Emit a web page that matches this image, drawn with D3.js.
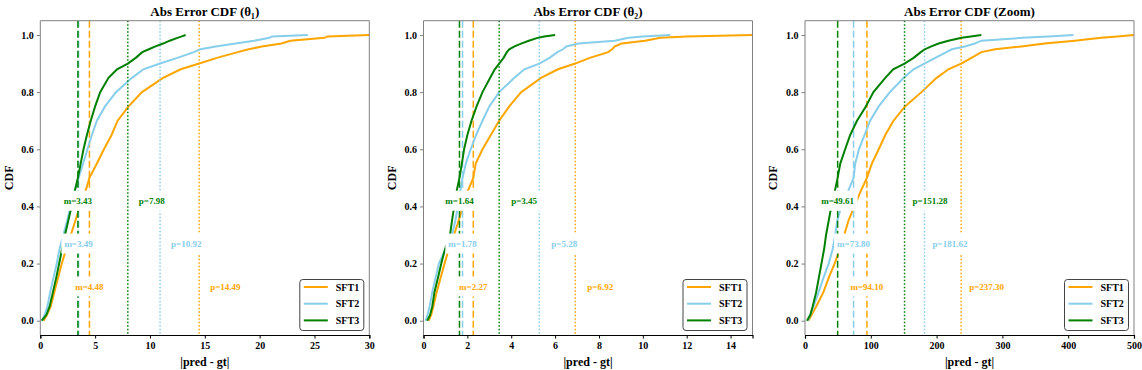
<!DOCTYPE html>
<meta charset="utf-8">
<style>
body { margin: 0; background: #fff; }
svg text { font-family: "Liberation Serif", "Times New Roman", serif; font-weight: bold; }
</style>
<body>
<div id="chart"></div>
<script src="https://d3js.org/d3.v7.min.js"></script>
<script>
var cdfLevels = [0, 0.02, 0.05, 0.1, 0.15, 0.2, 0.25, 0.3, 0.35, 0.4, 0.45, 0.5, 0.55, 0.6, 0.65,
                 0.7, 0.75, 0.8, 0.85, 0.88, 0.9, 0.92, 0.94, 0.95, 0.96, 0.97, 0.98, 0.99, 0.995, 1];

var seriesNames = ["SFT1", "SFT2", "SFT3"];

// theta1
var theta1SFT1 = [0.3, 0.6, 0.95, 1.28, 1.62, 1.96, 2.35, 2.78, 3.2, 3.6, 4.1, 4.48, 5.16, 5.8, 6.5,
                  7.05, 8.05, 9.27, 11.2, 12.8, 14.49, 16.1, 18.0, 19.0, 20.2, 22.0, 22.8, 25.9, 26.2, 30];
var theta1SFT2 = [0.15, 0.4, 0.65, 0.9, 1.2, 1.5, 1.75, 2.1, 2.45, 2.75, 3.1, 3.49, 3.9, 4.3, 4.7,
                  5.16, 5.9, 6.9, 8.36, 9.4, 10.92, 12.5, 14.0, 14.6, 16.0, 17.8, 19.5, 20.9, 21.1, 24.4];
var theta1SFT3 = [0.13, 0.55, 0.85, 1.15, 1.45, 1.72, 1.98, 2.25, 2.55, 2.85, 3.12, 3.43, 3.68, 3.94, 4.25,
                  4.6, 5.0, 5.46, 6.22, 7.0, 7.98, 8.7, 9.3, 9.9, 10.5, 11.2, 11.8, 12.5, 12.9, 13.25];

// theta2
var theta2SFT1 = [0.24, 0.35, 0.45, 0.6, 0.78, 0.96, 1.15, 1.39, 1.6, 1.8, 2.0, 2.27, 2.38, 2.69, 3.07,
                  3.45, 3.91, 4.45, 5.36, 6.13, 6.92, 7.58, 8.42, 8.6, 8.73, 9.03, 10.1, 10.8, 12.0, 15];
var theta2SFT2 = [0.09, 0.18, 0.28, 0.4, 0.55, 0.7, 1.0, 1.3, 1.45, 1.57, 1.67, 1.78, 1.93, 2.15, 2.4,
                  2.69, 3.0, 3.45, 4.14, 4.6, 5.28, 5.75, 6.1, 6.36, 6.51, 7.05, 8.73, 9.34, 10.0, 11.25];
var theta2SFT3 = [0.17, 0.3, 0.4, 0.5, 0.66, 0.81, 0.98, 1.21, 1.3, 1.4, 1.5, 1.64, 1.75, 1.85, 2.0,
                  2.19, 2.42, 2.69, 3.04, 3.25, 3.45, 3.65, 3.8, 3.91, 4.15, 4.45, 4.8, 5.2, 5.5, 6.0];

// zoom
var zoomSFT1 = [5, 10, 17, 28, 36, 45, 53, 59.6, 66, 75, 84, 94.1, 101.6, 112, 122,
                134.5, 152, 177, 200, 218, 237.3, 253, 268, 289, 329, 364, 410, 450, 475, 500];
var zoomSFT2 = [4, 8, 13, 20.7, 28, 36, 42, 46, 49, 55, 65, 73.8, 76.3, 82, 90.5,
                99, 112, 129, 150, 165, 181.62, 198, 215, 223, 243, 258, 268, 330, 370, 408];
var zoomSFT3 = [3, 8, 11.6, 17, 21, 25, 29, 32, 36, 40, 45, 49.61, 53.6, 61, 68.7,
                79, 92.5, 104, 122, 134, 151.28, 165, 176, 182, 192, 203, 218, 238, 252, 268];

var theta1Medians = [4.48, 3.49, 3.43];
var theta1P90 = [14.49, 10.92, 7.98];
var theta2Medians = [2.27, 1.78, 1.64];
var theta2P90 = [6.92, 5.28, 3.45];
var zoomMedians = [94.10, 73.80, 49.61];
var zoomP90 = [237.30, 181.62, 151.28];

var theta1Ticks = [0, 5, 10, 15, 20, 25, 30];
var theta2Ticks = [0, 2, 4, 6, 8, 10, 12, 14];
var zoomTicks = [0, 100, 200, 300, 400, 500];
var yTicks = [0.0, 0.2, 0.4, 0.6, 0.8, 1.0];

var panelTitles = ["Abs Error CDF (\u03b8\u2081)", "Abs Error CDF (\u03b8\u2082)", "Abs Error CDF (Zoom)"];
var xMaxes = [30, 15, 500];
var labelY = [0.12, 0.27, 0.42];

var colors = ["orange", "skyblue", "green"];

var panels = [
  { title: panelTitles[0], xMax: xMaxes[0], ticks: theta1Ticks, series: [theta1SFT1, theta1SFT2, theta1SFT3], med: theta1Medians, p90: theta1P90, left: 40.3, pOff: 11 },
  { title: panelTitles[1], xMax: xMaxes[1], ticks: theta2Ticks, series: [theta2SFT1, theta2SFT2, theta2SFT3], med: theta2Medians, p90: theta2P90, left: 423.5, pOff: 12 },
  { title: panelTitles[2], xMax: xMaxes[2], ticks: zoomTicks, series: [zoomSFT1, zoomSFT2, zoomSFT3], med: zoomMedians, p90: zoomP90, left: 805, pOff: 8 }
];

var W = 1142, H = 370;
var plotTop = 20.7, plotBottom = 335, pw = 329;

var svg = d3.select("#chart").append("svg")
  .attr("width", W)
  .attr("height", H);

var y = d3.scaleLinear().domain([-0.05, 1.05]).range([plotBottom, plotTop]);

panels.forEach(function(p, pi) {
  var x = d3.scaleLinear().domain([0, p.xMax]).range([p.left, p.left + pw]);
  var g = svg.append("g");

  var clipId = "clip" + pi;
  svg.append("clipPath").attr("id", clipId)
    .append("rect").attr("x", p.left).attr("y", plotTop).attr("width", pw).attr("height", plotBottom - plotTop);

  var plot = g.append("g").attr("clip-path", "url(#" + clipId + ")");

  var line = d3.line()
    .x(function(d) { return x(d[0]); })
    .y(function(d) { return y(d[1]); });

  p.series.forEach(function(vals, i) {
    var pts = vals.map(function(v, k) { return [v, cdfLevels[k]]; });
    plot.append("path")
      .datum(pts)
      .attr("fill", "none")
      .attr("stroke", colors[i])
      .attr("stroke-width", 2)
      .attr("d", line);

    plot.append("line")
      .attr("x1", x(p.med[i])).attr("x2", x(p.med[i]))
      .attr("y1", plotTop).attr("y2", plotBottom)
      .attr("stroke", colors[i])
      .attr("stroke-width", 1.5)
      .attr("stroke-dasharray", "7,3");

    plot.append("line")
      .attr("x1", x(p.p90[i])).attr("x2", x(p.p90[i]))
      .attr("y1", plotTop).attr("y2", plotBottom)
      .attr("stroke", colors[i])
      .attr("stroke-width", 1.5)
      .attr("stroke-dasharray", "1.5,2");
  });

  // m / p labels on white boxes
  p.series.forEach(function(vals, i) {
    [["m=" + p.med[i].toFixed(2), x(p.med[i]), "middle"],
     ["p=" + p.p90[i].toFixed(2), x(p.p90[i]) + p.pOff, "start"]].forEach(function(lb) {
      var t = g.append("text")
        .attr("x", lb[1])
        .attr("y", y(labelY[i]))
        .attr("dy", "0.35em")
        .attr("text-anchor", lb[2])
        .attr("font-size", "9px")
        .attr("fill", colors[i])
        .text(lb[0]);
      var bb = t.node().getBBox();
      g.insert("rect", function() { return t.node(); })
        .attr("x", bb.x - 3).attr("y", y(labelY[i]) - 10)
        .attr("width", bb.width + 6).attr("height", 20)
        .attr("fill", "white");
    });
  });

  // spines
  g.append("line").attr("x1", p.left).attr("x2", p.left).attr("y1", plotTop).attr("y2", plotBottom).attr("stroke", "#808080").attr("stroke-width", 1);
  g.append("line").attr("x1", p.left + pw).attr("x2", p.left + pw).attr("y1", plotTop).attr("y2", plotBottom).attr("stroke", "#808080").attr("stroke-width", 1);
  g.append("line").attr("x1", p.left).attr("x2", p.left + pw).attr("y1", plotTop).attr("y2", plotTop).attr("stroke", "#808080").attr("stroke-width", 1);

  // x axis
  var xa = g.append("g")
    .attr("transform", "translate(0," + plotBottom + ")")
    .call(d3.axisBottom(x).tickValues(p.ticks).tickSize(3.5).tickPadding(3).tickFormat(d3.format("d")));
  xa.attr("font-family", null).attr("font-size", null);
  xa.select(".domain").attr("stroke", "#000").attr("stroke-width", 1.2);
  xa.selectAll("text").attr("font-size", "10px").attr("fill", "#000");

  // y axis
  var ya = g.append("g")
    .attr("transform", "translate(" + p.left + ",0)")
    .call(d3.axisLeft(y).tickValues(yTicks).tickSize(3.5).tickPadding(3).tickFormat(d3.format(".1f")));
  ya.attr("font-family", null).attr("font-size", null);
  ya.select(".domain").remove();
  ya.selectAll(".tick line").attr("stroke", "#808080");
  ya.selectAll("text").attr("font-size", "10px").attr("fill", "#000");

  svg.append("text")
    .attr("x", p.left + pw / 2).attr("y", 15.5)
    .attr("text-anchor", "middle")
    .attr("font-size", "13px")
    .text(p.title);

  svg.append("text")
    .attr("x", p.left + pw / 2).attr("y", 365.5)
    .attr("text-anchor", "middle")
    .attr("font-size", "12px")
    .text("|pred - gt|");

  svg.append("text")
    .attr("transform", "translate(" + (p.left - 32) + "," + ((plotTop + plotBottom) / 2) + ") rotate(-90)")
    .attr("text-anchor", "middle")
    .attr("dy", "0.35em")
    .attr("font-size", "12px")
    .text("CDF");

  // legend
  var lw = 64, lh = 51;
  var lx = p.left + pw - 5.5 - lw, ly = plotBottom - 4.5 - lh;
  var leg = g.append("g").attr("transform", "translate(" + lx + "," + ly + ")");
  leg.append("rect")
    .attr("width", lw).attr("height", lh)
    .attr("rx", 3)
    .attr("fill", "white")
    .attr("stroke", "#444")
    .attr("stroke-width", 1);
  seriesNames.forEach(function(n, i) {
    var yy = 7.5 + i * 16.7;
    leg.append("line").attr("x1", 4).attr("x2", 28).attr("y1", yy).attr("y2", yy)
      .attr("stroke", colors[i]).attr("stroke-width", 2);
    leg.append("text").attr("x", 36).attr("y", yy).attr("dy", "0.35em")
      .attr("font-size", "10px").text(n);
  });
});
</script>
</body>
